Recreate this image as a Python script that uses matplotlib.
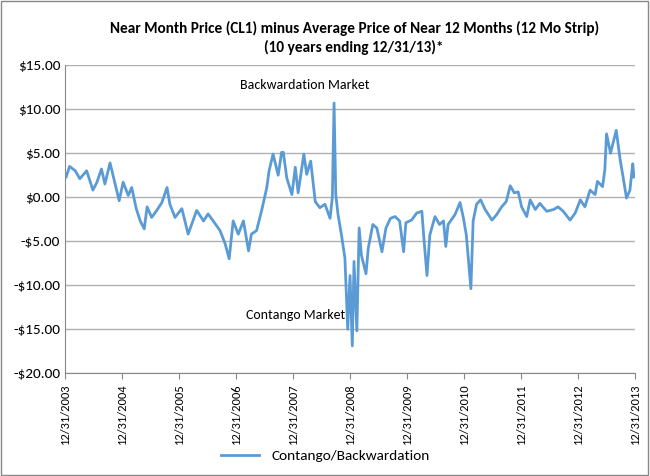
import matplotlib.pyplot as plt
from matplotlib.patches import Rectangle

# decimal year (2004.0 = 12/31/2003) and spread in $
years = [2004.02, 2004.08, 2004.18, 2004.26, 2004.38, 2004.49, 2004.56, 2004.64, 2004.70, 2004.79,
         2004.88, 2004.95, 2005.02, 2005.11, 2005.17, 2005.25, 2005.32, 2005.39, 2005.44, 2005.52,
         2005.61, 2005.70, 2005.79, 2005.84, 2005.93, 2006.05, 2006.16, 2006.31, 2006.43, 2006.51,
         2006.60, 2006.72, 2006.81, 2006.88, 2006.95, 2007.04, 2007.13, 2007.22, 2007.27, 2007.36,
         2007.45, 2007.54, 2007.58, 2007.65, 2007.74, 2007.80, 2007.83, 2007.89, 2007.98, 2008.04,
         2008.09, 2008.19, 2008.24, 2008.31, 2008.39, 2008.47, 2008.56, 2008.65, 2008.69, 2008.72,
         2008.75, 2008.79, 2008.85, 2008.91, 2008.96, 2009.00, 2009.04, 2009.07, 2009.12, 2009.16,
         2009.20, 2009.28, 2009.32, 2009.40, 2009.47, 2009.56, 2009.63, 2009.71, 2009.79, 2009.87,
         2009.94, 2009.98, 2010.08, 2010.17, 2010.26, 2010.30, 2010.35, 2010.40, 2010.49, 2010.57,
         2010.64, 2010.68, 2010.72, 2010.84, 2010.93, 2010.99, 2011.04, 2011.08, 2011.12, 2011.16,
         2011.22, 2011.29, 2011.37, 2011.49, 2011.57, 2011.66, 2011.74, 2011.81, 2011.88, 2011.95,
         2012.01, 2012.10, 2012.16, 2012.25, 2012.33, 2012.45, 2012.57, 2012.65, 2012.74, 2012.86,
         2012.95, 2013.04, 2013.12, 2013.21, 2013.30, 2013.34, 2013.43, 2013.47, 2013.50, 2013.57,
         2013.62, 2013.67, 2013.74, 2013.79, 2013.85, 2013.91, 2013.96, 2013.98]
spread = [2.3, 3.5, 3.0, 2.1, 3.0, 0.8, 1.7, 3.2, 1.5, 3.9,
          1.5, -0.4, 1.7, 0.2, 1.1, -1.3, -2.7, -3.6, -1.1, -2.3,
          -1.5, -0.6, 1.1, -0.8, -2.3, -1.3, -4.2, -1.5, -2.7, -1.9,
          -2.7, -3.8, -5.3, -7.0, -2.7, -4.2, -2.7, -6.1, -4.2, -3.8,
          -1.5, 1.1, 3.0, 4.9, 2.5, 5.1, 5.1, 2.2, 0.3, 3.4,
          0.5, 4.9, 2.6, 4.1, -0.5, -1.2, -0.8, -2.4, 0.0, 10.7,
          0.3, -2.0, -4.3, -6.9, -15.0, -8.9, -16.9, -7.3, -15.2, -3.5,
          -6.6, -8.7, -5.8, -3.1, -3.5, -6.2, -3.5, -2.4, -2.2, -2.7,
          -6.2, -2.9, -2.6, -1.8, -1.6, -5.0, -8.9, -4.3, -2.2, -3.1,
          -2.7, -5.6, -3.1, -2.0, -0.6, -2.4, -4.3, -7.3, -10.4, -2.7,
          -0.8, -0.3, -1.4, -2.6, -2.0, -1.1, -0.5, 1.3, 0.5, 0.6,
          -1.1, -2.2, -0.3, -1.4, -0.7, -1.6, -1.4, -1.1, -1.6, -2.6,
          -1.8, -0.3, -1.1, 0.8, 0.3, 1.8, 1.2, 3.1, 7.2, 5.0,
          6.3, 7.6, 4.2, 2.3, -0.1, 0.8, 3.8, 2.3]

tick_years = list(range(2004, 2015))
tick_labels = ['12/31/%d' % (y - 1) for y in tick_years]
y_ticks = [15, 10, 5, 0, -5, -10, -15, -20]

plt.rcParams['font.family'] = ['Carlito', 'Liberation Sans', 'DejaVu Sans']
fig = plt.figure(figsize=(6.5, 4.76), dpi=100)
fig.patches.append(Rectangle((0.002, 0.002), 0.995, 0.995, transform=fig.transFigure,
                             fill=False, edgecolor='#888888', lw=1))
ax = fig.add_axes([0.1, 0.216, 0.877, 0.647])

ax.plot(years, spread, color='#5B9BD5', lw=2, label='Contango/Backwardation')
ax.set_xlim(2004, 2014)
ax.set_ylim(-20, 15)
ax.set_yticks(y_ticks)
ax.set_yticklabels([('-$%.2f' % -v) if v < 0 else ('$%.2f' % v) for v in y_ticks], fontsize=11)
ax.set_xticks(tick_years)
ax.set_xticklabels(tick_labels, rotation=90, fontsize=9)
ax.grid(axis='y', color='#b0b0b0', lw=1)
ax.set_axisbelow(True)
for s in ['top', 'right']:
    ax.spines[s].set_visible(False)
ax.spines['left'].set_color('#888888')
ax.spines['bottom'].set_color('#888888')
ax.tick_params(axis='y', length=0)
ax.tick_params(axis='x', color='#888888', length=4)

ax.text(2008.2, 12.3, 'Backwardation Market', ha='center', fontsize=10)
ax.text(2008.05, -13.8, 'Contango Market', ha='center', fontsize=10)

fig.text(0.545, 0.955, 'Near Month Price (CL1) minus Average Price of Near 12 Months (12 Mo Strip)\n(10 years ending 12/31/13)*',
         ha='center', va='top', fontsize=11, fontweight='bold', linespacing=1.3)
fig.legend(loc='lower center', bbox_to_anchor=(0.5, 0.0), frameon=False, fontsize=11,
           handlelength=2.5)

fig.savefig('out.png', dpi=100)
